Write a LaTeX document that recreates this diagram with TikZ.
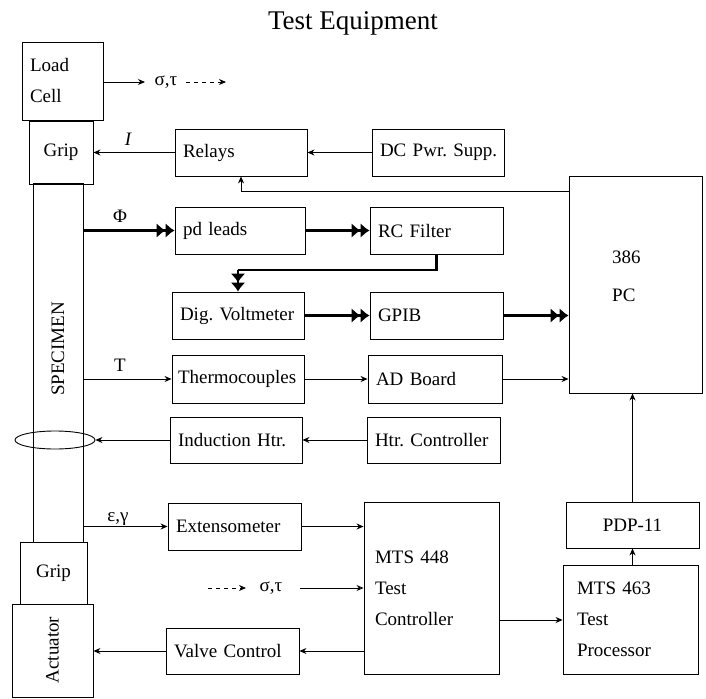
\documentclass[tikz,border=0pt]{standalone}
\usepackage{fontspec}
\setmainfont{Liberation Serif}
\usetikzlibrary{arrows.meta,shapes.geometric,calc}
\frenchspacing
\begin{document}
\begin{tikzpicture}[x=1pt,y=-1pt,
  every node/.style={font=\fontsize{19}{31}\selectfont\frenchspacing},
  blk/.style={draw,line width=0.9pt,inner xsep=8pt,inner ysep=0pt,align=left},
  cbox/.style={draw,line width=0.9pt,inner sep=0pt,align=center},
  arr/.style={line width=0.9pt,-{Stealth[length=7pt,width=6pt]}},
  oarr/.style={line width=0.9pt,-{Stealth[open,length=7pt,width=6pt]}},
  thk/.style={line width=2.8pt,-{Latex[length=9pt,width=15pt]Latex[length=9pt,width=15pt]}},
  thkline/.style={line width=2.8pt},
  lbl/.style={inner sep=1pt}]
\useasboundingbox (0,0) rectangle (706,698);
\node (title) at (353,23) {\fontsize{27}{30}\selectfont Test Equipment};

% specimen column
\node[cbox,minimum width=50pt,minimum height=359pt] (specimen) at (58,362.5) {};
\node[rotate=90] (spectext) at (58,349) {SPECIMEN};
\node[blk,text width=65pt,minimum height=78pt] (loadcell) at (62.5,81) {\strut Load\\\strut Cell};
\node[cbox,minimum width=64pt,minimum height=63pt] (grip1) at (61,152.5) {Grip};
\node[cbox,minimum width=67pt,minimum height=62pt] (grip2) at (53.5,573) {Grip};
\node[cbox,minimum width=81pt,minimum height=93pt] (actuator) at (52.5,650.5) {};
\node[rotate=90] (acttext) at (52.5,650) {Actuator};
\node[draw,ellipse,line width=0.9pt,minimum width=80pt,minimum height=18pt,inner sep=0pt] (heater) at (55,440) {};

% boxes
\node[blk,text width=116pt,minimum height=47pt] (relays) at (241,152.5) {\mbox{Relays}};
\node[blk,text width=116pt,minimum height=47pt] (dcpwr) at (438,152.5) {\mbox{DC Pwr. Supp.}};
\node[cbox,minimum width=133pt,minimum height=217pt] (pc) at (635.5,284.5) {};
\node[align=left,anchor=west,inner sep=0pt,font=\fontsize{19}{38}\selectfont] (pctext) at (612,276) {386\\PC};
\node[blk,text width=114pt,minimum height=47pt] (pdleads) at (240,230.5) {\mbox{pd leads}};
\node[blk,text width=117pt,minimum height=47pt] (rcfilter) at (436.5,230.5) {\mbox{RC Filter}};
\node[blk,text width=116pt,minimum height=47pt,inner xsep=8pt] (dvm) at (238,315.5) {\mbox{Dig. Voltmeter}};
\node[blk,text width=117pt,minimum height=47pt] (gpib) at (436.5,315.5) {\mbox{GPIB}};
\node[blk,text width=120pt,minimum height=48pt,inner xsep=6pt] (thermo) at (238,379) {\mbox{Thermocouples}};
\node[blk,text width=118pt,minimum height=48pt] (adboard) at (435,379) {\mbox{AD Board}};
\node[blk,text width=116pt,minimum height=46pt] (induction) at (236,440) {\mbox{Induction Htr.}};
\node[blk,text width=117pt,minimum height=46pt] (htrctrl) at (433.5,440) {\mbox{Htr. Controller}};
\node[blk,text width=117pt,minimum height=47pt] (extenso) at (234.5,526.5) {\mbox{Extensometer}};
\node[blk,text width=117pt,minimum height=46pt] (valve) at (232.5,651) {\mbox{Valve Control}};
\node[blk,text width=113pt,minimum height=172pt,inner xsep=11pt] (mts448) at (431.5,588) {MTS 448\\Test\\Controller};
\node[blk,text width=107pt,minimum height=109pt,inner xsep=14pt] (mts463) at (630.5,619.5) {MTS 463\\Test\\Processor};
\node[cbox,minimum width=133pt,minimum height=46pt] (pdp) at (632.5,525) {PDP-11};

% load cell output
\coordinate (lc1) at (145,82);
\node[lbl] (sig1) at (166,82) {σ,τ};
\coordinate (lc2) at (186,82);
\coordinate (lc3) at (226,82);
\draw[arr] (loadcell.east |- lc1) -- (lc1);
\draw[arr,dash pattern=on 4pt off 4pt] (lc2) -- (lc3);

% current
\draw[arr] (relays.west) -- (grip1.east);
\node[lbl] (ilbl) at (128,139) {\itshape I};
\draw[arr] (dcpwr.west) -- (relays.east);
\coordinate (pcr) at (569,191);
\draw[arr] (pcr) -| (relays.south);

% potential drop
\draw[thk] (specimen.east |- pdleads.west) -- (pdleads.west);
\node[lbl] (philbl) at (120,216) {Φ};
\draw[thk] (pdleads.east) -- (rcfilter.west);
\coordinate (k1) at (rcfilter.south |- 0,270);
\coordinate (k2) at (dvm.north |- 0,270);
\draw[thkline] (rcfilter.south) -- (k1) -- (k2);
\draw[thk] (k2) -- (dvm.north);
\draw[thk] (dvm.east) -- (gpib.west);
\draw[thk] (gpib.east) -- (gpib.east -| pc.west);

% temperature
\draw[arr] (specimen.east |- thermo.west) -- (thermo.west);
\node[lbl] (tlbl) at (120,365) {T};
\draw[arr] (thermo.east) -- (adboard.west);
\draw[arr] (adboard.east) -- (adboard.east -| pc.west);

% heater
\draw[arr] (htrctrl.west) -- (induction.east);
\draw[arr] (induction.west) -- (heater.east);

% strain
\draw[arr] (specimen.east |- extenso.west) -- (extenso.west);
\node[lbl] (eglbl) at (118,519) {ε,γ};
\draw[arr] (extenso.east) -- (extenso.east -| mts448.west);

% command
\coordinate (c1) at (208,588);
\coordinate (c2) at (246,588);
\node[lbl] (sig2) at (271,588) {σ,τ};
\coordinate (c3) at (300,588);
\draw[arr,dash pattern=on 4pt off 4pt] (c1) -- (c2);
\draw[oarr] (c3) -- (c3 -| mts448.west);

\draw[arr] (mts448.west |- valve.east) -- (valve.east);
\draw[arr] (valve.west) -- (valve.west -| actuator.east);
\coordinate (m1) at (mts448.east |- 0,620);
\draw[arr] (m1) -- (m1 -| mts463.west);
\draw[arr] (mts463.north -| pdp.south) -- (pdp.south);
\draw[arr] (pdp.north) -- (pdp.north |- pc.south);
\end{tikzpicture}
\end{document}
